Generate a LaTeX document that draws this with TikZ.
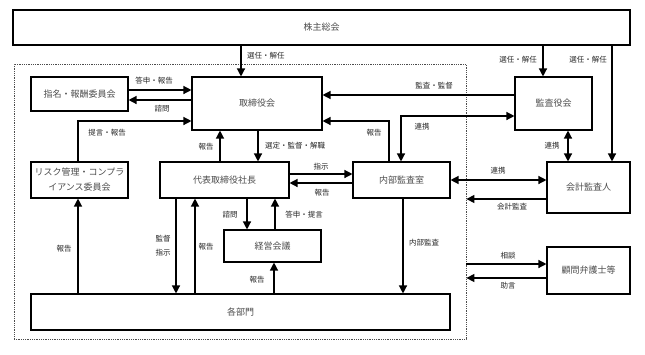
\documentclass[tikz,border=0pt]{standalone}
\usepackage{fontspec}
\setmainfont{Noto Sans CJK JP}
\usetikzlibrary{arrows.meta,calc}
\begin{document}
\begin{tikzpicture}[x=1pt,y=-1pt,
  box/.style={draw=black,line width=1.1pt,fill=white,inner sep=0pt,font=\fontsize{9}{15}\selectfont,text=black!70,align=center},
  conn/.style={line width=1.3pt,-{Triangle[length=8pt,width=8pt]}},
  dconn/.style={line width=1.3pt,{Triangle[length=8pt,width=8pt]}-{Triangle[length=8pt,width=8pt]}},
  lbl/.style={font=\fontsize{7.5}{9}\selectfont,text=black!85,inner sep=1pt},
  grpframe/.style={draw=black!70,densely dotted,line width=0.8pt,inner sep=0pt}]
\useasboundingbox (0,0) rectangle (645,354);
\node[grpframe,minimum width=452pt,minimum height=275pt] (grp) at (240,201.5) {};
\node[box,minimum width=617pt,minimum height=35pt] (sh) at (321.5,27.5) {株主総会};
\node[box,minimum width=97pt,minimum height=34pt] (nom) at (79.5,94) {指名・報酬委員会};
\node[box,minimum width=130pt,minimum height=53pt] (bod) at (257,103.5) {取締役会};
\node[box,minimum width=97pt,minimum height=36pt] (risk) at (79.5,180) {リスク管理・コンプラ\\イアンス委員会};
\node[box,minimum width=129pt,minimum height=36pt] (ceo) at (224.5,180) {代表取締役社長};
\node[box,minimum width=97pt,minimum height=36pt] (ia) at (401.5,180) {内部監査室};
\node[box,minimum width=77pt,minimum height=53pt] (kan) at (553.5,103.5) {監査役会};
\node[box,minimum width=83pt,minimum height=51pt] (acc) at (588.5,187.5) {会計監査人};
\node[box,minimum width=83pt,minimum height=47pt] (law) at (588.5,270.5) {顧問弁護士等};
\node[box,minimum width=97pt,minimum height=32pt] (mgmt) at (272.5,246) {経営会議};
\node[box,minimum width=419pt,minimum height=36pt] (dept) at (240.5,312) {各部門};

% shareholders
\draw[conn] (241,0 |- sh.south) -- (241,0 |- bod.north);
\node[lbl,anchor=west] (l1) at (246,56) {選任・解任};
\draw[conn] (543,0 |- sh.south) -- (543,0 |- kan.north);
\node[lbl] (l2) at (518,60) {選任・解任};
\draw[conn] (612,0 |- sh.south) -- (612,0 |- acc.north);
\node[lbl] (l3) at (588,60) {選任・解任};

% nomination committee
\draw[conn] (nom.east |- 0,90) -- (bod.west |- 0,90);
\node[lbl] (l4) at (154,81) {答申・報告};
\draw[conn] (bod.west |- 0,100) -- (nom.east |- 0,100);
\node[lbl] (l5) at (162,109) {諮問};

% risk committee
\draw[conn] (78,0 |- risk.north) |- (bod.west |- 0,121);
\node[lbl] (l6) at (107,133) {提言・報告};
\draw[conn] (78,0 |- dept.north) -- (78,0 |- risk.south);
\node[lbl] (l7) at (64,249) {報告};

% board <-> CEO
\draw[conn] (220,0 |- ceo.north) -- (220,0 |- bod.south);
\node[lbl] (l8) at (206,147) {報告};
\draw[conn] (258,0 |- bod.south) -- (258,0 |- ceo.north);
\node[lbl,anchor=west] (l9) at (264,146) {選定・監督・解職};

% audit board
\draw[conn] (kan.west |- 0,95) -- (bod.east |- 0,95);
\node[lbl] (l10) at (434,86) {監査・監督};
\draw[dconn] (401,0 |- ia.north) |- (kan.west |- 0,116);
\node[lbl] (l11) at (422,127) {連携};
\draw[conn] (389,0 |- ia.north) |- (bod.east |- 0,121);
\node[lbl] (l12) at (374,133) {報告};
\draw[dconn] (568,0 |- kan.south) -- (568,0 |- acc.north);
\node[lbl] (l13) at (552,146) {連携};

% CEO <-> internal audit
\draw[conn] (ceo.east |- 0,174) -- (ia.west |- 0,174);
\node[lbl] (l14) at (321,167) {指示};
\draw[conn] (ia.west |- 0,183) -- (ceo.east |- 0,183);
\node[lbl] (l15) at (322,193) {報告};

% internal audit <-> accounting auditor
\draw[dconn] (ia.east |- 0,180) -- (acc.west |- 0,180);
\node[lbl] (l16) at (498,171) {連携};
\draw[conn] (acc.west |- 0,199) -- (grp.east |- 0,199);
\node[lbl] (l17) at (512,207) {会計監査};

% lawyers
\draw[conn] (grp.east |- 0,264) -- (law.west |- 0,264);
\node[lbl] (l18) at (508,256) {相談};
\draw[conn] (law.west |- 0,278) -- (grp.east |- 0,278);
\node[lbl] (l19) at (508,286) {助言};

% internal audit -> departments
\draw[conn] (403,0 |- ia.south) -- (403,0 |- dept.north);
\node[lbl] (l20) at (424,243) {内部監査};

% CEO <-> management meeting
\draw[conn] (247,0 |- ceo.south) -- (247,0 |- mgmt.north);
\node[lbl] (l21) at (230,215) {諮問};
\draw[conn] (275,0 |- mgmt.north) -- (275,0 |- ceo.south);
\node[lbl] (l22) at (304,215) {答申・提言};
\draw[conn] (274,0 |- dept.north) -- (274,0 |- mgmt.south);
\node[lbl] (l23) at (257,280) {報告};

% CEO <-> departments
\draw[conn] (176,0 |- ceo.south) -- (176,0 |- dept.north);
\node[lbl] (l24) at (163,239) {監督};
\node[lbl] (l25) at (163,253) {指示};
\draw[conn] (195,0 |- dept.north) -- (195,0 |- ceo.south);
\node[lbl] (l26) at (206,247) {報告};
\end{tikzpicture}
\end{document}
